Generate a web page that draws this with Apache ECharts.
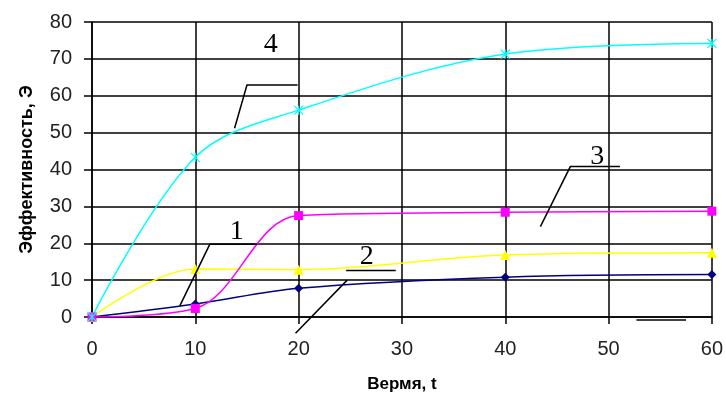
<!DOCTYPE html>
<html><head><meta charset="utf-8">
<script src="https://cdn.jsdelivr.net/npm/echarts@6/dist/echarts.min.js"></script>
<style>html,body{margin:0;padding:0;background:#fff}#c{width:726px;height:398px}</style>
</head><body><div id="c"></div>
<script>
const times = [0, 10, 20, 40, 60];
const series1 = [0, 3.5, 7.8, 10.8, 11.5];   // navy
const series2 = [0, 13.0, 12.8, 16.8, 17.4]; // yellow
const series3 = [0, 2.3, 27.5, 28.4, 28.7];  // magenta
const series4 = [0, 43.3, 56.1, 71.3, 74.2]; // cyan
const xTicks = [0, 10, 20, 30, 40, 50, 60];
const yTicks = [0, 10, 20, 30, 40, 50, 60, 70, 80];
const xTitle = 'Вермя, t';
const yTitle = 'Эффективность, Э';
// annotation leader lines (data coordinates) and labels
const leaders = [
  [[19.9, 62.9], [15.0, 62.9], [13.8, 51.2]],
  [[51.1, 40.8], [46.3, 40.8], [43.4, 24.5]],
  [[16.0, 19.7], [11.4, 19.7], [8.5, 3.0]],
  [[24.6, 12.6], [29.4, 12.6]],
  [[24.7, 10.0], [19.7, -4.4]],
  [[52.7, -0.8], [57.5, -0.8]]
];
const labels = [
  {text: '4', at: [17.3, 73.8]},
  {text: '3', at: [48.9, 43.4]},
  {text: '1', at: [14.0, 23.1]},
  {text: '2', at: [26.6, 16.4]}
];

const zip = (xs, ys) => xs.map((x, i) => [x, ys[i]]);
const chart = echarts.init(document.getElementById('c'));
const crossPath = 'path://M0,0L10,10M10,0L0,10M5,0L5,10';
function mkSeries(data, color, symbol, size) {
  return {
    type: 'line', data: zip(times, data), smooth: 0.35,
    symbol: symbol, symbolSize: size, showSymbol: true,
    lineStyle: {color: color, width: 1.5},
    itemStyle: {color: color, borderColor: color, borderWidth: symbol === crossPath ? 1.2 : 0},
    z: 3, animation: false
  };
}
chart.setOption({
  animation: false,
  grid: {left: 92, right: 12, top: 22, bottom: 81},
  xAxis: {
    type: 'value', min: 0, max: 60, interval: 10,
    name: xTitle, nameLocation: 'middle', nameGap: 59,
    nameTextStyle: {fontFamily: 'Liberation Sans', fontWeight: 'bold', fontSize: 17, color: '#000'},
    axisLine: {lineStyle: {color: '#000', width: 1.5}},
    axisTick: {show: true, length: 7, lineStyle: {color: '#000', width: 1.5}},
    axisLabel: {margin: 22, fontFamily: 'Liberation Sans', fontSize: 20, color: '#222',
      formatter: v => xTicks.includes(v) ? String(v) : ''},
    splitLine: {show: true, lineStyle: {color: '#000', width: 1.5}}
  },
  yAxis: {
    type: 'value', min: 0, max: 80, interval: 10,
    name: yTitle, nameLocation: 'middle', nameGap: 56,
    nameTextStyle: {fontFamily: 'Liberation Sans', fontWeight: 'bold', fontSize: 18, color: '#000'},
    axisLine: {show: true, lineStyle: {color: '#000', width: 1.5}},
    axisTick: {show: true, length: 8, lineStyle: {color: '#000', width: 1.5}},
    axisLabel: {margin: 20, fontFamily: 'Liberation Sans', fontSize: 20, color: '#222',
      formatter: v => yTicks.includes(v) ? String(v) : ''},
    splitLine: {show: true, lineStyle: {color: '#000', width: 1.5}}
  },
  series: [
    mkSeries(series1, '#000080', 'diamond', 9),
    mkSeries(series2, '#FFFF00', 'triangle', 10),
    mkSeries(series3, '#FF00FF', 'rect', 9),
    mkSeries(series4, '#00FFFF', crossPath, 9)
  ]
});
const px = p => chart.convertToPixel({seriesIndex: 0}, p);
const elems = [];
leaders.forEach(l => elems.push({
  type: 'polyline', shape: {points: l.map(px)},
  style: {stroke: '#000', lineWidth: 1.5, fill: null}, z: 10
}));
labels.forEach(lb => {
  const p = px(lb.at);
  elems.push({type: 'text', x: p[0], y: p[1], z: 10,
    style: {text: lb.text, font: '28px "Liberation Serif"', fill: '#000', align: 'center', verticalAlign: 'middle'}});
});
chart.setOption({graphic: elems});
</script></body></html>
